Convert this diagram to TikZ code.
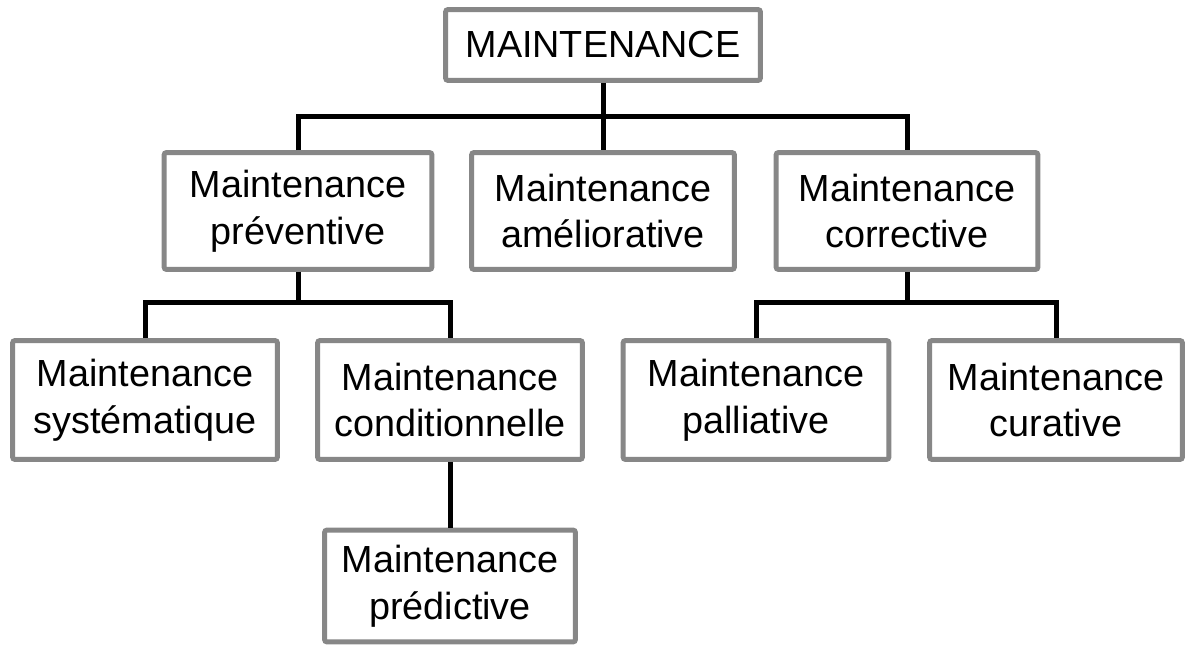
\documentclass[tikz,border=0pt]{standalone}
\usepackage{fontspec}
\setmainfont{Liberation Sans}
\usetikzlibrary{positioning}
\begin{document}
\begin{tikzpicture}[x=0.02cm,y=-0.02cm,
  box/.style={draw=black!47, line width=0.1cm, fill=white, rounded corners=1.5pt,
    align=center, inner sep=0pt, font=\fontsize{21.5}{26.5}\selectfont},
  link/.style={line width=0.1cm}]
\useasboundingbox (0,0) rectangle (1191,648);
\node[box, minimum width=6.3cm, minimum height=1.42cm] (maint) at (603,45) {MAINTENANCE};
\node[box, minimum width=5.36cm, minimum height=2.34cm] (prev) at (298,211) {Maintenance\\préventive};
\node[box, minimum width=5.26cm, minimum height=2.34cm] (amel) at (603,211) {Maintenance\\améliorative};
\node[box, minimum width=5.24cm, minimum height=2.34cm] (corr) at (907,211) {Maintenance\\corrective};
\node[box, minimum width=5.3cm, minimum height=2.38cm] (syst) at (145,400) {Maintenance\\systématique};
\node[box, minimum width=5.3cm, minimum height=2.38cm] (cond) at (450,400) {Maintenance\\conditionnelle};
\node[box, minimum width=5.32cm, minimum height=2.38cm] (pall) at (756,400) {Maintenance\\palliative};
\node[box, minimum width=5.06cm, minimum height=2.38cm] (cura) at (1056,400) {Maintenance\\curative};
\node[box, minimum width=5.02cm, minimum height=2.24cm] (pred) at (450,586) {Maintenance\\prédictive};
\coordinate (b1) at (603,117);
\coordinate (b2) at (298,303);
\coordinate (b3) at (907,303);
\draw[link] (maint.south) -- (b1);
\draw[link] (prev.north) |- (b1) -| (corr.north);
\draw[link] (b1) -- (amel.north);
\draw[link] (prev.south) -- (b2);
\draw[link] (syst.north) |- (b2) -| (cond.north);
\draw[link] (corr.south) -- (b3);
\draw[link] (pall.north) |- (b3) -| (cura.north);
\draw[link] (cond.south) -- (pred.north);
\end{tikzpicture}
\end{document}
